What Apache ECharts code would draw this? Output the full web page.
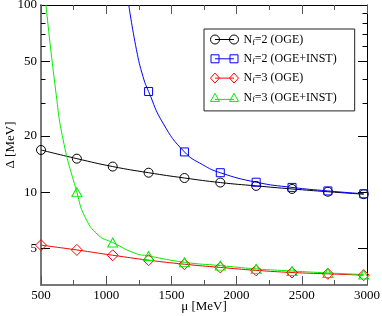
<!DOCTYPE html>
<html>
<head>
<meta charset="utf-8">
<script src="https://cdn.jsdelivr.net/npm/echarts@6/dist/echarts.min.js"></script>
<style>html,body{margin:0;padding:0;background:#fff;}#c{width:382px;height:316px;}</style>
</head>
<body>
<div id="c"></div>
<script>
// ---- data ----
const mu = [500, 775, 1050, 1325, 1600, 1875, 2150, 2425, 2700, 2975];
const nf2OGE = [16.8, 15.1, 13.7, 12.7, 11.9, 11.25, 10.8, 10.4, 10.05, 9.75];
const nf2INSTmu = [1325, 1600, 1875, 2150, 2425, 2700, 2975];
const nf2INST = [34.5, 16.4, 12.7, 11.3, 10.6, 10.15, 9.8];
const nf3OGE = [5.21, 4.91, 4.60, 4.33, 4.12, 3.96, 3.82, 3.72, 3.66, 3.60];
const nf3INSTmu = [775, 1050, 1325, 1600, 1875, 2150, 2425, 2700, 2975];
const nf3INST = [10.0, 5.38, 4.56, 4.22, 4.05, 3.89, 3.79, 3.70, 3.63];
// extra points (no marker)
const nf2INSTcurveMu = [1173, 1232, 1282, 1435, 1741];
const nf2INSTcurve = [100, 57.7, 41.5, 23.4, 14.0];
const nf3INSTcurveMu = [538, 612, 670, 836, 938, 1219];
const nf3INSTcurve = [100, 35.2, 19.0, 7.4, 5.9, 4.72];
const xTickLabels = [500, 1000, 1500, 2000, 2500, 3000];
const yMajorTicks = [5, 10, 20, 50, 100];
const yMinorTicks = [30, 40, 60, 70, 80, 90];
const names = ['Nf=2 (OGE)', 'Nf=2 (OGE+INST)', 'Nf=3 (OGE)', 'Nf=3 (OGE+INST)'];
const colors = ['#000000', '#0000ff', '#ff0000', '#00ee00'];

const FONT = 'Liberation Serif';

function build(mx, my, cx, cy) {
  const pts = [];
  mx.forEach((x, i) => pts.push({ value: [x, my[i]] }));
  (cx || []).forEach((x, i) => pts.push({ value: [x, cy[i]], symbol: 'none' }));
  pts.sort((a, b) => a.value[0] - b.value[0]);
  return pts;
}

const icons = [
  'path://M0,5 A4.5,4.5 0 1,1 9,5 A4.5,4.5 0 1,1 0,5 Z M4.5,5 L23.5,5 M19,5 A4.5,4.5 0 1,1 28,5 A4.5,4.5 0 1,1 19,5 Z M0,0 M28,10',
  'path://M0.5,1 L8.5,1 L8.5,9 L0.5,9 Z M4.5,5 L23.5,5 M19.5,1 L27.5,1 L27.5,9 L19.5,9 Z M0,0 M28,10',
  'path://M0,5 L4.5,0 L9,5 L4.5,10 Z M4.5,5 L23.5,5 M19,5 L23.5,0 L28,5 L23.5,10 Z',
  'path://M0,9 L4.5,1 L9,9 Z M4.5,7 L23.5,7 M19,9 L23.5,1 L28,9 Z M0,0 M28,10'
];
const symbols = ['circle', 'rect', 'diamond', 'triangle'];
const symSizes = [9, 8, 11, [10, 9]];
const datasets = [
  build(mu, nf2OGE),
  build(nf2INSTmu, nf2INST, nf2INSTcurveMu, nf2INSTcurve),
  build(mu, nf3OGE),
  build(nf3INSTmu, nf3INST, nf3INSTcurveMu, nf3INSTcurve)
];

const series = names.map((n, i) => ({
  name: n,
  type: 'line',
  xAxisIndex: 0,
  yAxisIndex: 0,
  data: datasets[i],
  smooth: 0.5,
  symbol: symbols[i],
  symbolSize: symSizes[i],
  showAllSymbol: true,
  clip: true,
  lineStyle: { color: colors[i], width: 1 },
  itemStyle: { color: 'none', borderColor: colors[i], borderWidth: 1 },
  emphasis: { disabled: true },
  animation: false
}));

const xCommon = {
  type: 'value', min: 500, max: 3000, interval: 500,
  splitLine: { show: false }
};
const yCommon = {
  type: 'log', min: 3.19, max: 100, logBase: 10,
  splitLine: { show: false }, minorTick: { show: false }
};

const chart = echarts.init(document.getElementById('c'), null, { renderer: 'canvas' });
chart.setOption({
  animation: false,
  backgroundColor: '#fff',
  textStyle: { fontFamily: FONT },
  grid: { left: 41, right: 15, top: 5, bottom: 31, containLabel: false, outerBoundsMode: 'none' },
  xAxis: [
    Object.assign({}, xCommon, {
      position: 'bottom',
      name: 'μ [MeV]', nameLocation: 'middle', nameGap: 15,
      nameMoveOverlap: false,
      nameTextStyle: { fontFamily: FONT, fontSize: 13, color: '#000' },
      axisLine: { lineStyle: { color: '#777', width: 2 } },
      axisTick: { inside: true, length: 9, lineStyle: { color: '#555', width: 1 } },
      minorTick: { show: true, splitNumber: 2, length: 5, lineStyle: { color: '#555', width: 1 } },
      axisLabel: { margin: 4, customValues: xTickLabels, fontFamily: FONT, fontSize: 13, color: '#000',
                   formatter: v => String(Math.round(v)), hideOverlap: false }
    }),
    Object.assign({}, xCommon, {
      position: 'top',
      axisLine: { lineStyle: { color: '#000', width: 1 } },
      axisTick: { inside: true, length: 9, lineStyle: { color: '#555', width: 1 } },
      minorTick: { show: true, splitNumber: 2, length: 5, lineStyle: { color: '#555', width: 1 } },
      axisLabel: { show: false }
    })
  ],
  yAxis: [
    Object.assign({}, yCommon, {
      position: 'left',
      name: 'Δ [MeV]', nameLocation: 'middle', nameGap: 24, nameRotate: 90,
      nameMoveOverlap: false,
      nameTextStyle: { fontFamily: FONT, fontSize: 13, color: '#000' },
      axisLine: { lineStyle: { color: '#777', width: 2 } },
      axisTick: { inside: true, length: 9, customValues: yMajorTicks, lineStyle: { color: '#000', width: 1 } },
      axisLabel: { margin: 4, customValues: yMajorTicks, fontFamily: FONT, fontSize: 13, color: '#000',
                   formatter: v => String(Math.round(v)) }
    }),
    Object.assign({}, yCommon, {
      position: 'left',
      axisLine: { show: false },
      axisTick: { inside: true, length: 4.5, customValues: yMinorTicks, lineStyle: { color: '#000', width: 1 } },
      axisLabel: { show: false }
    }),
    Object.assign({}, yCommon, {
      position: 'right',
      axisLine: { lineStyle: { color: '#000', width: 1 } },
      axisTick: { inside: true, length: 9, customValues: yMajorTicks, lineStyle: { color: '#000', width: 1 } },
      axisLabel: { show: false }
    }),
    Object.assign({}, yCommon, {
      position: 'right',
      axisLine: { show: false },
      axisTick: { inside: true, length: 4.5, customValues: yMinorTicks, lineStyle: { color: '#000', width: 1 } },
      axisLabel: { show: false }
    })
  ],
  legend: {
    orient: 'vertical',
    left: 204, top: 29,
    padding: [3, 18, 6, 4],
    itemGap: 4.3,
    itemWidth: 28, itemHeight: 10,
    backgroundColor: '#fff',
    borderColor: '#222', borderWidth: 1,
    selectedMode: false,
    data: names.map((n, i) => ({
      name: n, icon: icons[i],
      itemStyle: { color: 'none', borderColor: colors[i], borderWidth: 1 }
    })),
    formatter: name => '{a|N}{b|f}{a|' + name.slice(2) + '}',
    textStyle: {
      fontFamily: FONT, fontSize: 12, color: '#000', lineHeight: 14,
      rich: {
        a: { fontFamily: FONT, fontSize: 12, color: '#000', lineHeight: 14 },
        b: { fontFamily: FONT, fontSize: 8, color: '#000', lineHeight: 14, padding: [6, 0, 0, 0] }
      }
    }
  },
  series: series
});
</script>
</body>
</html>
